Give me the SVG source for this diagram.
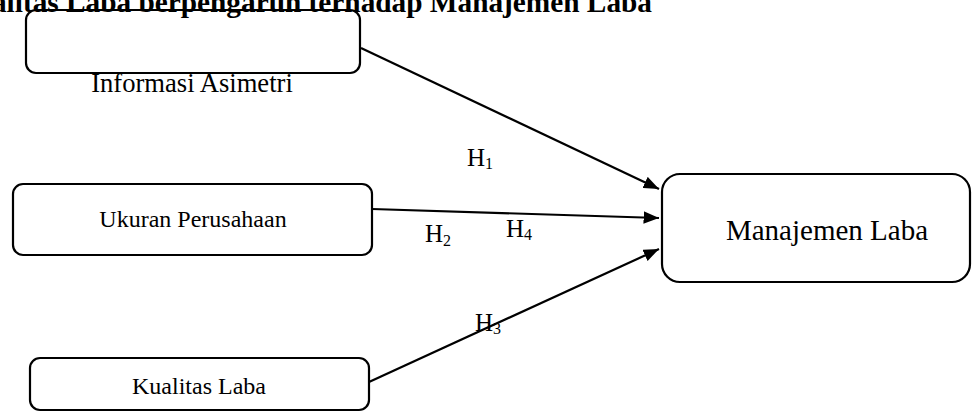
<svg xmlns="http://www.w3.org/2000/svg" width="980" height="412" viewBox="0 0 980 412">
<defs>
<marker id="ah" viewBox="0 0 10 8" refX="10" refY="4" markerWidth="7" markerHeight="5.6" markerUnits="strokeWidth" orient="auto">
<path d="M0,0 L10,4 L0,8 z" fill="#000"/>
</marker>
<style>
.box{fill:#fff;stroke:#000;stroke-width:2.2}
.t{font-family:"Liberation Serif","Times New Roman",serif;fill:#000}
.conn line{stroke:#000;stroke-width:2.2;marker-end:url(#ah)}
</style>
</defs>
<rect width="980" height="412" fill="#fff"/>
<g id="node-informasi">
<rect class="box" x="26" y="10" width="334" height="63" rx="10"/>
<text class="t" x="192" y="92" font-size="26.6" text-anchor="middle">Informasi Asimetri</text>
</g>
<g id="node-ukuran">
<rect class="box" x="13" y="184" width="359" height="71" rx="10"/>
<text class="t" x="193" y="227" font-size="24" text-anchor="middle">Ukuran Perusahaan</text>
</g>
<g id="node-kualitas">
<rect class="box" x="30" y="358" width="339" height="52" rx="10"/>
<text class="t" x="199" y="394" font-size="24" text-anchor="middle">Kualitas Laba</text>
</g>
<g id="node-manajemen">
<rect class="box" x="662" y="174" width="308" height="108" rx="18"/>
<text class="t" x="827" y="240" font-size="29" text-anchor="middle">Manajemen Laba</text>
</g>
<g id="connectors" class="conn">
<line x1="361" y1="48" x2="659" y2="189"/>
<line x1="372" y1="209" x2="659" y2="218"/>
<line x1="369" y1="382" x2="659" y2="249"/>
</g>
<g id="labels" class="t" font-size="25">
<text x="467" y="166">H<tspan font-size="16" dy="3">1</tspan></text>
<text x="425" y="242">H<tspan font-size="16" dy="4">2</tspan></text>
<text x="506" y="237">H<tspan font-size="16" dy="3">4</tspan></text>
<text x="475" y="331">H<tspan font-size="16" dy="3">3</tspan></text>
</g>
<text id="title" class="t" x="652" y="12" font-size="29.3" font-weight="bold" text-anchor="end">Kualitas Laba berpengaruh terhadap Manajemen Laba</text>
</svg>
